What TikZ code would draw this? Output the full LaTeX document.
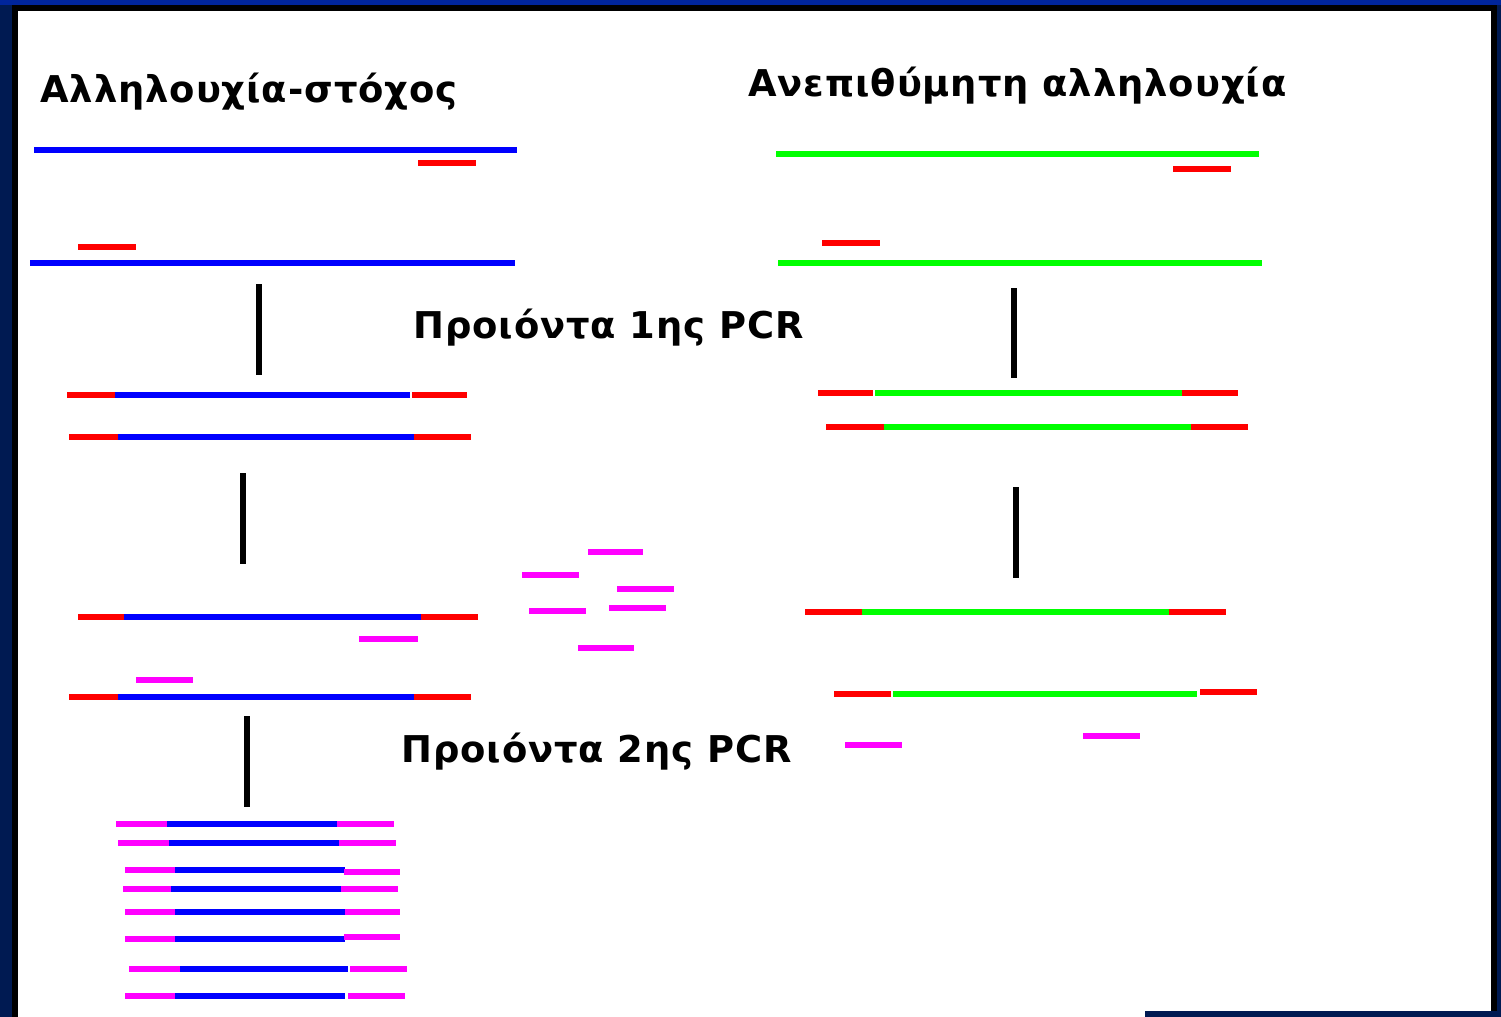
\documentclass[tikz,border=0pt]{standalone}
\usepackage{fontspec}
\setmainfont{DejaVu Sans}
\definecolor{frameblue}{HTML}{00259C}
\definecolor{framenavy}{HTML}{001A52}
\definecolor{dnablue}{RGB}{0,0,255}
\definecolor{offgreen}{RGB}{0,255,0}
\definecolor{primerred}{RGB}{255,0,0}
\definecolor{nestedpink}{RGB}{255,0,255}

\begin{document}
\begin{tikzpicture}[x=0.02cm, y=-0.02cm,
	strand/.style={line width=0.115cm},
	dna/.style={strand, dnablue},
	off/.style={strand, offgreen},
	primer/.style={strand, primerred},
	nested/.style={strand, nestedpink},
	bar/.style={line width=0.12cm, black},
	title/.style={anchor=base west, inner sep=0pt, font=\fontsize{21}{25}\selectfont\bfseries\addfontfeature{LetterSpace=2.5}}]
	\useasboundingbox (0,0) rectangle (1501,1017);
	% Frame:
	\fill[framenavy] (0,0) rectangle (1501,1017);
	\fill[frameblue] (0,0) rectangle (1501,5);
	\fill[black] (12,5) rectangle (1497,1017);
	\fill[white] (18,11) rectangle (1491,1017);
	\fill[framenavy] (1145,1011) rectangle (1501,1017);
	% Titles:
	\node[title] (target) at (40,103) {Αλληλουχία-στόχος};
	\node[title] (unwanted) at (748,97) {Ανεπιθύμητη αλληλουχία};
	\node[title] (first) at (413,338) {Προιόντα 1ης PCR};
	\node[title] (second) at (401,762) {Προιόντα 2ης PCR};
	% Template strands and outer primers:
	\draw[dna] (34,150) -- (517,150);
	\draw[primer] (418,163) -- (476,163);
	\draw[primer] (78,247) -- (136,247);
	\draw[dna] (30,263) -- (515,263);
	\draw[off] (776,154) -- (1259,154);
	\draw[primer] (1173,169) -- (1231,169);
	\draw[primer] (822,243) -- (880,243);
	\draw[off] (778,263) -- (1262,263);
	% Steps:
	\draw[bar] (259,284) -- (259,375);
	\draw[bar] (1014,288) -- (1014,378);
	\draw[bar] (243,473) -- (243,564);
	\draw[bar] (1016,487) -- (1016,578);
	\draw[bar] (247,716) -- (247,807);
	% 1st PCR products:
	\draw[primer] (67,395) -- (115,395);
	\draw[dna] (115,395) -- (410,395);
	\draw[primer] (412,395) -- (467,395);
	\draw[primer] (69,437) -- (118,437);
	\draw[dna] (118,437) -- (414,437);
	\draw[primer] (414,437) -- (471,437);
	\draw[primer] (818,393) -- (873,393);
	\draw[off] (875,393) -- (1182,393);
	\draw[primer] (1182,393) -- (1238,393);
	\draw[primer] (826,427) -- (884,427);
	\draw[off] (884,427) -- (1191,427);
	\draw[primer] (1191,427) -- (1248,427);
	% Inner primers:
	\draw[primer] (78,617) -- (124,617);
	\draw[dna] (124,617) -- (421,617);
	\draw[primer] (421,617) -- (478,617);
	\draw[nested] (359,639) -- (418,639);
	\draw[nested] (136,680) -- (193,680);
	\draw[primer] (69,697) -- (118,697);
	\draw[dna] (118,697) -- (414,697);
	\draw[primer] (414,697) -- (471,697);
	\draw[nested] (588,552) -- (643,552);
	\draw[nested] (522,575) -- (579,575);
	\draw[nested] (617,589) -- (674,589);
	\draw[nested] (529,611) -- (586,611);
	\draw[nested] (609,608) -- (666,608);
	\draw[nested] (578,648) -- (634,648);
	\draw[primer] (805,612) -- (862,612);
	\draw[off] (862,612) -- (1169,612);
	\draw[primer] (1169,612) -- (1226,612);
	\draw[primer] (834,694) -- (891,694);
	\draw[off] (893,694) -- (1197,694);
	\draw[primer] (1200,692) -- (1257,692);
	\draw[nested] (845,745) -- (902,745);
	\draw[nested] (1083,736) -- (1140,736);
	% 2nd PCR products:
	\draw[nested] (116,824) -- (167,824);
	\draw[dna] (167,824) -- (337,824);
	\draw[nested] (337,824) -- (394,824);
	\draw[nested] (118,843) -- (169,843);
	\draw[dna] (169,843) -- (339,843);
	\draw[nested] (339,843) -- (396,843);
	\draw[nested] (125,870) -- (175,870);
	\draw[dna] (175,870) -- (345,870);
	\draw[nested] (344,872) -- (400,872);
	\draw[nested] (123,889) -- (171,889);
	\draw[dna] (171,889) -- (341,889);
	\draw[nested] (341,889) -- (398,889);
	\draw[nested] (125,912) -- (175,912);
	\draw[dna] (175,912) -- (345,912);
	\draw[nested] (345,912) -- (400,912);
	\draw[nested] (125,939) -- (175,939);
	\draw[dna] (175,939) -- (345,939);
	\draw[nested] (344,937) -- (400,937);
	\draw[nested] (129,969) -- (180,969);
	\draw[dna] (180,969) -- (348,969);
	\draw[nested] (350,969) -- (407,969);
	\draw[nested] (125,996) -- (175,996);
	\draw[dna] (175,996) -- (345,996);
	\draw[nested] (348,996) -- (405,996);
\end{tikzpicture}
\end{document}
